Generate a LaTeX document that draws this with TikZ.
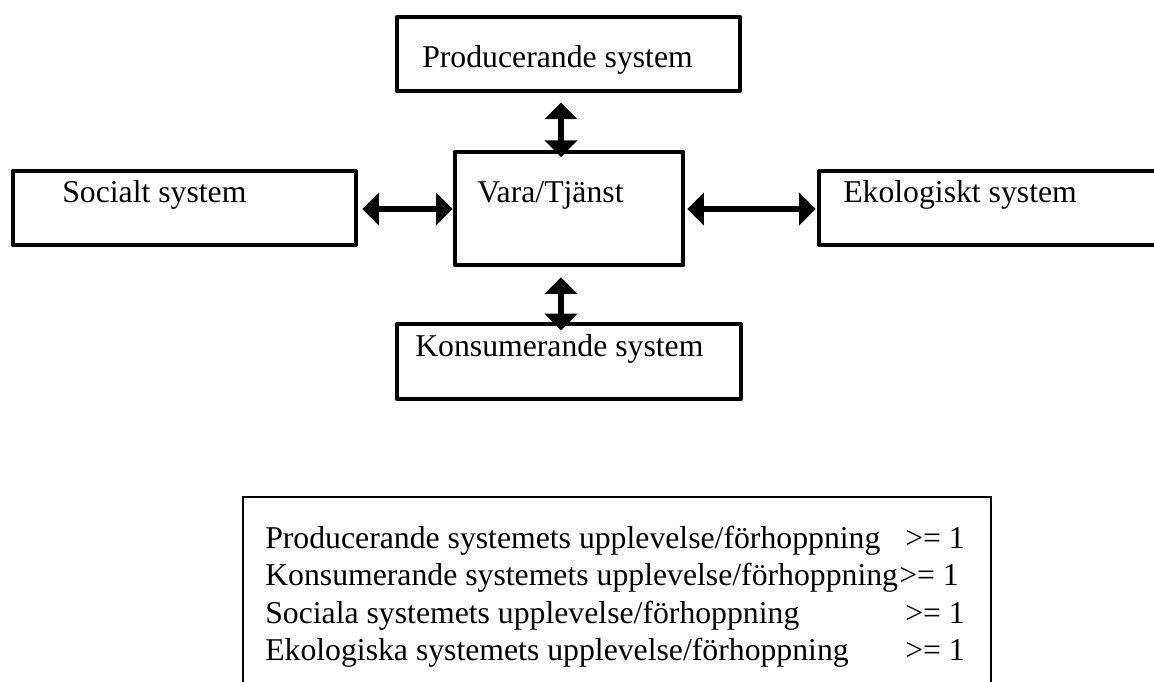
\documentclass[tikz,border=0pt]{standalone}
\usepackage{fontspec}
\setmainfont{Liberation Serif}
\usetikzlibrary{arrows.meta,fit}
\begin{document}
\begin{tikzpicture}[x=0.75pt,y=-0.75pt,
  box/.style={draw=black,line width=3.4pt,line join=round,inner sep=0pt,fill=none},
  thinbox/.style={draw=black,line width=2pt,inner sep=0pt},
  lbl/.style={anchor=base west,inner sep=0pt,font=\fontsize{23.8}{28}\selectfont},
  dbl/.style={line width=3.8pt,{Triangle[width=24pt,length=12.5pt]}-{Triangle[width=24pt,length=12.5pt]}}]
\useasboundingbox (0,0) rectangle (1154,682);
\clip (0,0) rectangle (1154,682);
\fill[white] (0,0) rectangle (1154,682);
% boxes
\node[box,fit={(397,17) (740,91)}] (prod) {};
\node[box,fit={(455,152) (683,265)}] (vara) {};
\node[box,fit={(13,171) (356,245)}] (soc) {};
\node[box,fit={(819,171) (1175,245)}] (eko) {};
\node[box,fit={(397,324) (741,399)}] (kons) {};
\node[thinbox,fit={(243,497) (991,700)}] (res) {};
% labels
\node[lbl] (tprod) at (422,67) {Producerande system};
\node[lbl] (tvara) at (477,202) {Vara/Tjänst};
\node[lbl] (tsoc) at (62,202) {Socialt system};
\node[lbl] (teko) at (843,202) {Ekologiskt system};
\node[lbl] (tkons) at (415,356) {Konsumerande system};
\node[lbl] (r1) at (265,548) {Producerande systemets upplevelse/förhoppning};
\node[lbl] (r2) at (265,585) {Konsumerande systemets upplevelse/förhoppning};
\node[lbl] (r3) at (265,623) {Sociala systemets upplevelse/förhoppning};
\node[lbl] (r4) at (265,660) {Ekologiska systemets upplevelse/förhoppning};
\node[lbl] (g1) at (905,548) {>= 1};
\node[lbl] (g2) at (899,585) {>= 1};
\node[lbl] (g3) at (905,623) {>= 1};
\node[lbl] (g4) at (905,660) {>= 1};
% connectors
\coordinate (pa) at (prod.south -| 561,0);
\coordinate (va) at (vara.north -| 561,0);
\coordinate (vb) at (vara.south -| 561,0);
\coordinate (ka) at (kons.north -| 561,0);
\draw[dbl,shorten <=-0.6pt] ([yshift=-7.5pt]pa) -- ([yshift=-5.5pt]va);
\draw[dbl] ([yshift=-7.5pt]vb) -- ([yshift=-6.5pt]ka);
\draw[dbl] ([xshift=3pt]soc.east |- 0,209) -- (vara.west |- 0,209);
\draw[dbl] ([xshift=1.5pt]vara.east |- 0,209) -- ([xshift=-0.75pt]eko.west |- 0,209);
\end{tikzpicture}
\end{document}
